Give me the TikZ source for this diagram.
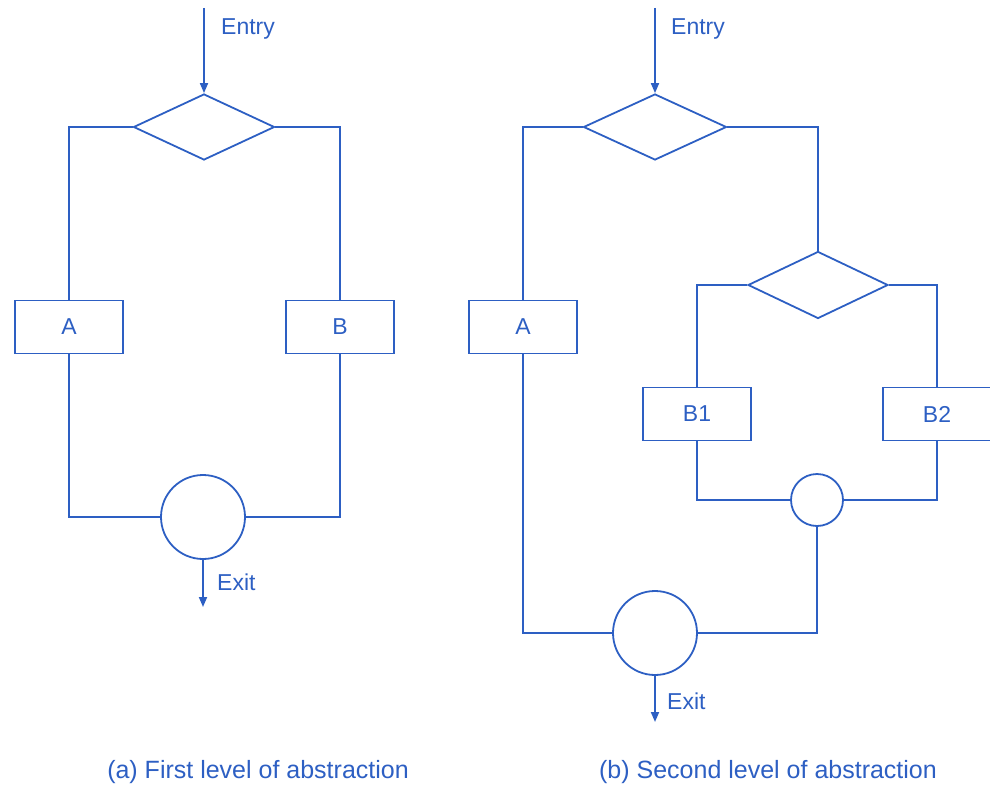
\documentclass[tikz,border=0pt]{standalone}
\usepackage{fontspec}
\setmainfont{Liberation Sans}
\usetikzlibrary{shapes.geometric,arrows.meta}
\definecolor{ink}{RGB}{45,95,195}
\begin{document}
\begin{tikzpicture}[x=1pt,y=-1pt,
  flow/.style={draw=ink,line width=1.8pt},
  dec/.style={flow,diamond,inner sep=0pt},
  proc/.style={flow,rectangle,inner sep=0pt,minimum width=108pt,minimum height=53pt,text=ink,font=\fontsize{23}{26}\selectfont},
  junc/.style={flow,circle,inner sep=0pt},
  lbl/.style={text=ink,font=\fontsize{23}{26}\selectfont,anchor=west,inner sep=0pt},
  captext/.style={text=ink,font=\fontsize{25}{28}\selectfont,inner sep=0pt},
  arr/.style={flow,-{Triangle[width=8pt,length=10pt]}}]
\useasboundingbox (0,0) rectangle (990,789);
% ---- (a) ----
\coordinate (e1) at (204,8);
\node[dec,minimum width=141pt,minimum height=66pt] (d1) at (204,127) {};
\node[proc] (A1) at (69,327) {A};
\node[proc] (B) at (340,327) {B};
\node[junc,minimum size=84pt] (j1) at (203,517) {};
\coordinate (x1) at (203,607);
\draw[arr] (e1) -- (d1.north);
\draw[flow] (d1.west) -| (A1.north);
\draw[flow] (d1.east) -| (B.north);
\draw[flow] (A1.south) |- (j1.west);
\draw[flow] (B.south) |- (j1.east);
\draw[arr] (j1.south) -- (x1);
\node[lbl] (en1) at (221,29) {Entry};
\node[lbl] (ex1) at (217,582) {Exit};
\node[captext] (c1) at (258,772) {(a) First level of abstraction};
% ---- (b) ----
\coordinate (e2) at (655,8);
\node[dec,minimum width=143pt,minimum height=66pt] (d2) at (655,127) {};
\node[proc] (A2) at (523,327) {A};
\node[dec,minimum width=140pt,minimum height=67pt] (d3) at (818,285) {};
\node[proc] (B1) at (697,414) {B1};
\node[proc] (B2) at (937,414) {B2};
\node[junc,minimum size=52pt] (j2) at (817,500) {};
\node[junc,minimum size=84pt] (j3) at (655,633) {};
\coordinate (x2) at (655,722);
\draw[arr] (e2) -- (d2.north);
\draw[flow] (d2.west) -| (A2.north);
\draw[flow] (d2.east) -| (d3.north);
\draw[flow] (d3.west) -| (B1.north);
\draw[flow] (d3.east) -| (B2.north);
\draw[flow] (B1.south) |- (j2.west);
\draw[flow] (B2.south) |- (j2.east);
\draw[flow] (j2.south) |- (j3.east);
\draw[flow] (A2.south) |- (j3.west);
\draw[arr] (j3.south) -- (x2);
\node[lbl] (en2) at (671,29) {Entry};
\node[lbl] (ex2) at (667,701) {Exit};
\node[captext] (c2) at (768,772) {(b) Second level of abstraction};
\end{tikzpicture}
\end{document}
